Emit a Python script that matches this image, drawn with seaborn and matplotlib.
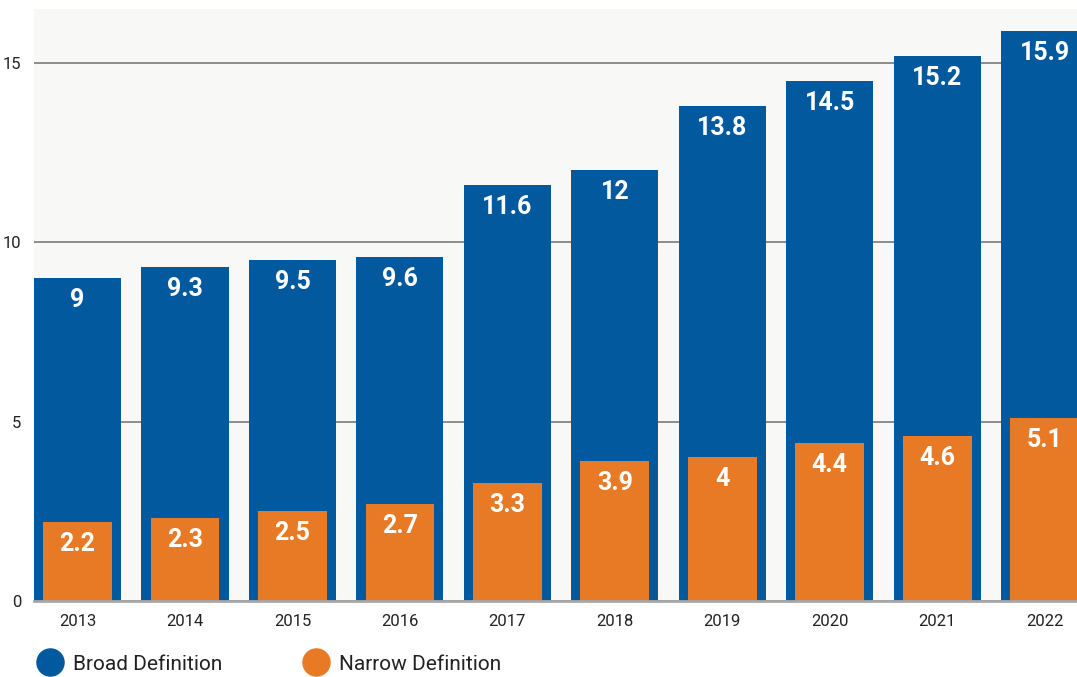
import matplotlib
matplotlib.use("Agg")
import matplotlib.pyplot as plt
from matplotlib.lines import Line2D
import seaborn as sns
import pandas as pd

years = ["2013", "2014", "2015", "2016", "2017", "2018", "2019", "2020", "2021", "2022"]
broad = [9, 9.3, 9.5, 9.6, 11.6, 12, 13.8, 14.5, 15.2, 15.9]
narrow = [2.2, 2.3, 2.5, 2.7, 3.3, 3.9, 4, 4.4, 4.6, 5.1]
y_ticks = [0, 5, 10, 15]

BLUE = "#03599e"
ORANGE = "#e97a25"

sns.set_theme(style="white")
plt.rcParams["font.family"] = ["Roboto", "DejaVu Sans"]

df = pd.DataFrame({"year": years, "broad": broad, "narrow": narrow})

fig = plt.figure(figsize=(10.77, 6.77), dpi=100)
ax = fig.add_axes([34 / 1077, (677 - 601) / 677, 1 - 34 / 1077, (601 - 9) / 677])
ax.set_facecolor("#f8f8f6")

sns.barplot(data=df, x="year", y="broad", color=BLUE, width=0.81,
            saturation=1, linewidth=0, ax=ax, zorder=2)
sns.barplot(data=df, x="year", y="narrow", color=ORANGE, width=0.64,
            saturation=1, linewidth=0, ax=ax, zorder=3)

# value labels just inside the top of each bar
for i, (b, n) in enumerate(zip(broad, narrow)):
    for v in (b, n):
        ax.annotate(f"{v:g}", xy=(i, v), xytext=(0, -22), textcoords="offset pixels",
                    ha="center", va="center", color="white", fontsize=18,
                    fontweight="bold", zorder=5)

ax.set_xlim(-0.405, 9.30)
ax.set_ylim(0, 16.5)
ax.set_yticks(y_ticks)
ax.set_xlabel("")
ax.set_ylabel("")
ax.yaxis.grid(True, color="#7a7a7a", linewidth=1.2)
ax.set_axisbelow(True)
for side in ("top", "right", "left"):
    ax.spines[side].set_visible(False)
ax.spines["bottom"].set_color("#a8a8a8")
ax.spines["bottom"].set_linewidth(2)
ax.spines["bottom"].set_zorder(6)
ax.tick_params(axis="both", length=0, labelsize=12, labelcolor="#222222")
ax.tick_params(axis="x", pad=9)
ax.tick_params(axis="y", pad=9)

handles = [
    Line2D([], [], marker="o", linestyle="none", markersize=19.5,
           markerfacecolor=BLUE, markeredgecolor=BLUE, label="Broad Definition"),
    Line2D([], [], marker="o", linestyle="none", markersize=19.5,
           markerfacecolor=ORANGE, markeredgecolor=ORANGE, label="Narrow Definition"),
]
fig.legend(handles=handles, loc="center left", bbox_to_anchor=(40 / 1077, 1 - 664 / 677),
           ncol=2, frameon=False, fontsize=15, handlelength=1.0, handletextpad=0.6,
           columnspacing=4.0, borderpad=0, borderaxespad=0, labelcolor="#222222")

fig.savefig("out.png", dpi=100, facecolor="white")
